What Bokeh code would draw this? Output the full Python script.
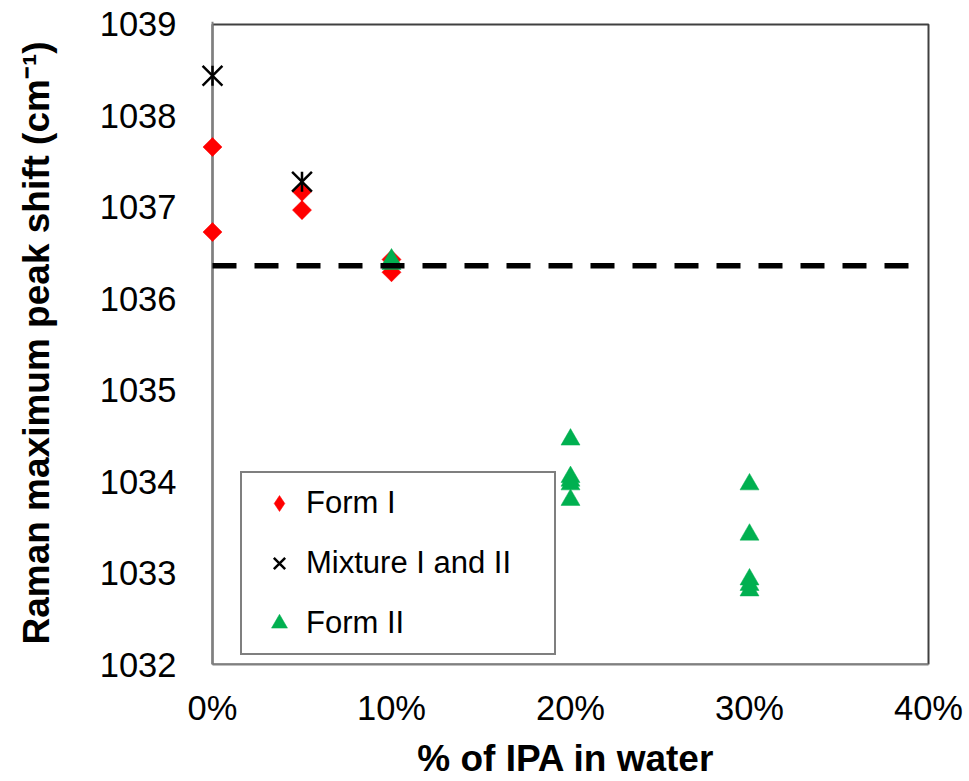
import math
from bokeh.plotting import figure
from bokeh.models import (Range1d, FixedTicker, NumeralTickFormatter, Legend, LegendItem,
                          Span, BoxAnnotation)
from bokeh.embed import file_html
from bokeh.resources import INLINE

# ---- data ----
form1_x = [0.00, 0.00, 0.05, 0.05, 0.10, 0.10]
form1_y = [1037.66, 1036.73, 1037.17, 1036.97, 1036.43, 1036.29]

mix_x = [0.00, 0.05]
mix_y = [1038.44, 1037.28]

form2_x = [0.10, 0.10, 0.20, 0.20, 0.20, 0.20, 0.20, 0.30, 0.30, 0.30, 0.30, 0.30]
form2_y = [1036.43, 1036.38, 1034.46, 1034.05, 1034.01, 1033.97, 1033.80,
           1033.97, 1033.42, 1032.93, 1032.87, 1032.81]

ref_x = [0.0, 0.39]
ref_y = [1036.36, 1036.36]

x_ticks = [0.0, 0.1, 0.2, 0.3, 0.4]
y_ticks = [1032, 1033, 1034, 1035, 1036, 1037, 1038, 1039]

x_min, x_max = 0.0, 0.4
y_min, y_max = 1032, 1039

FONT = "Liberation Sans"

# ---- layout ----
W, H = 969, 781
frame_w, frame_h = 716, 644      # pixel size of the 0..40% x 1032..1039 box
pad_l, pad_r, pad_t = 12, 3, 3   # extra frame room so edge marks are not clipped
dx = (x_max - x_min) / frame_w
dy = (y_max - y_min) / frame_h

p = figure(width=W, height=H, output_backend="svg", toolbar_location=None,
           x_range=Range1d(x_min - pad_l * dx, x_max + pad_r * dx),
           y_range=Range1d(y_min, y_max + pad_t * dy),
           min_border_left=212 - pad_l, min_border_right=41 - pad_r,
           min_border_top=24 - pad_t, min_border_bottom=113)
p.background_fill_color = "white"
p.border_fill_color = "white"
p.outline_line_color = None
p.xgrid.visible = False
p.ygrid.visible = False

# frame box (top/right dark)
frame_box = BoxAnnotation(left=x_min, right=x_max, bottom=y_min, top=y_max,
                          fill_color=None, fill_alpha=0, line_color="#404040",
                          line_alpha=1.0, line_width=2, level="underlay")
p.add_layout(frame_box)
# grey left axis line at 0% (under the markers)
p.add_layout(Span(location=x_min, dimension="height", line_color="#808080",
                  line_width=2, level="underlay"))

# glyphs
# legend-shape diamond (hidden beneath the true diamonds)
s1_leg = p.scatter(form1_x, form1_y, marker="diamond", size=18,
                   fill_color="#FF0000", line_color="#FF0000", line_width=0.5)
s1 = p.scatter(form1_x, form1_y, marker="square", angle=math.pi / 4, size=13.5,
               fill_color="#FF0000", line_color="#FF0000", line_width=0.5)
s3 = p.scatter(form2_x, form2_y, marker="triangle", size=19,
               fill_color="#00B050", line_color="#00B050", line_width=0.5)
s2x = p.scatter(mix_x, mix_y, marker="x", size=28,
                line_color="black", line_width=2.5)
s2v = p.scatter(mix_x, mix_y, marker="dash", angle=math.pi / 2, size=20,
                line_color="black", line_width=2.5)
p.line(ref_x, ref_y, line_color="black", line_width=5.5, line_dash="24 18")

# axes
xa = p.xaxis[0]
xa.ticker = FixedTicker(ticks=x_ticks)
xa.formatter = NumeralTickFormatter(format="0%")
xa.bounds = (x_min, x_max)
xa.axis_line_color = "#808080"
xa.axis_line_width = 2
xa.major_tick_line_color = None
xa.minor_tick_line_color = None
xa.major_tick_out = 0
xa.major_tick_in = 0
xa.major_label_standoff = 24
xa.major_label_text_font = FONT
xa.major_label_text_font_size = "34.5px"
xa.major_label_text_color = "black"
xa.axis_label = "% of IPA in water"
xa.axis_label_text_font = FONT
xa.axis_label_text_font_size = "37px"
xa.axis_label_text_font_style = "bold"
xa.axis_label_text_color = "black"
xa.axis_label_standoff = 8

ya = p.yaxis[0]
ya.ticker = FixedTicker(ticks=y_ticks)
ya.formatter = NumeralTickFormatter(format="0")
ya.axis_line_color = None
ya.major_tick_line_color = None
ya.minor_tick_line_color = None
ya.major_tick_out = 0
ya.major_tick_in = 0
ya.major_label_standoff = 36 - pad_l
ya.major_label_text_font = FONT
ya.major_label_text_font_size = "34.5px"
ya.major_label_text_color = "black"
ya.axis_label = "Raman maximum peak shift (cm\u207b\u00b9)"
ya.axis_label_text_font = FONT
ya.axis_label_text_font_size = "37px"
ya.axis_label_text_font_style = "bold"
ya.axis_label_text_color = "black"
ya.axis_label_standoff = 40

# legend
legend = Legend(items=[LegendItem(label="Form I", renderers=[s1_leg]),
                       LegendItem(label="Mixture I and II", renderers=[s2x]),
                       LegendItem(label="Form II", renderers=[s3])],
                location=(40, 9),
                glyph_width=54, glyph_height=40, padding=10, spacing=20,
                label_standoff=0, label_width=238,
                label_text_font=FONT, label_text_font_size="31px",
                label_text_color="black",
                border_line_color="black", border_line_width=2,
                background_fill_color="white", background_fill_alpha=1.0)
p.add_layout(legend)

open("out.html", "w").write(file_html(p, INLINE))
